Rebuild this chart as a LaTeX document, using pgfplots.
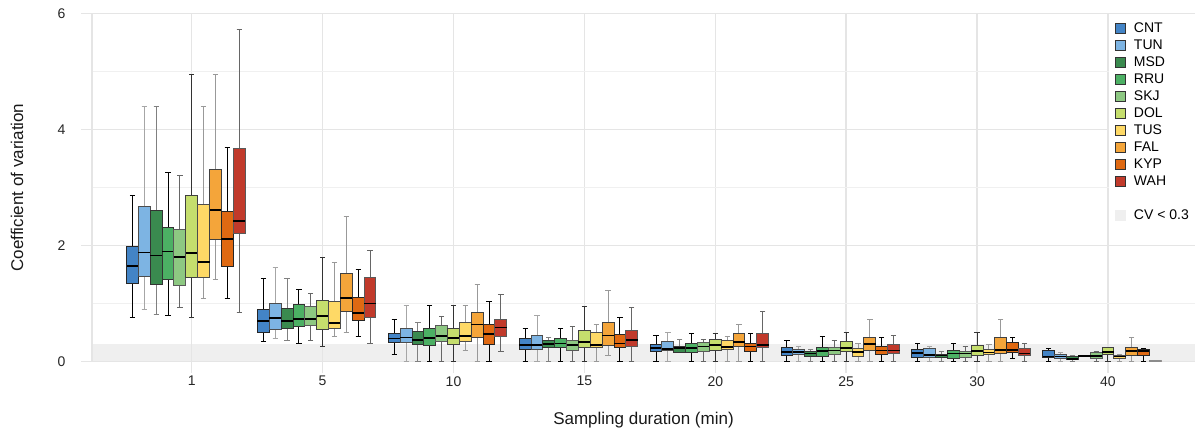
\documentclass[border=0pt]{standalone}
\usepackage{pgfplots}
\pgfplotsset{compat=1.18}
\usepgfplotslibrary{statistics}
\usepackage{fontspec}
\setmainfont{Liberation Sans}
\newcommand\fs[1]{\fontsize{#1}{#1}\selectfont}
\definecolor{cCNT}{HTML}{4384C6}
\definecolor{cTUN}{HTML}{7DB4E3}
\definecolor{cMSD}{HTML}{3A8A4F}
\definecolor{cRRU}{HTML}{4CB064}
\definecolor{cSKJ}{HTML}{8DC882}
\definecolor{cDOL}{HTML}{C5DE6D}
\definecolor{cTUS}{HTML}{FED966}
\definecolor{cFAL}{HTML}{F4A53A}
\definecolor{cKYP}{HTML}{DF6912}
\definecolor{cWAH}{HTML}{C13A2B}
\definecolor{gridmaj}{HTML}{E5E5E5}
\definecolor{gridmin}{HTML}{F0F0F0}
\definecolor{band}{HTML}{EFEFEF}
\pgfplotsset{
  st0/.style={fill=cCNT, draw=black!85, boxplot/every whisker/.style={draw=black}},
  st1/.style={fill=cTUN, draw=black!70, boxplot/every whisker/.style={draw=black!35}},
  st2/.style={fill=cMSD, draw=black!80, boxplot/every whisker/.style={draw=black!50}},
  st3/.style={fill=cRRU, draw=black!80, boxplot/every whisker/.style={draw=black}},
  st4/.style={fill=cSKJ, draw=black!65, boxplot/every whisker/.style={draw=black!60}},
  st5/.style={fill=cDOL, draw=black!75, boxplot/every whisker/.style={draw=black!80}},
  st6/.style={fill=cTUS, draw=black!70, boxplot/every whisker/.style={draw=black!40}},
  st7/.style={fill=cFAL, draw=black!75, boxplot/every whisker/.style={draw=black!40}},
  st8/.style={fill=cKYP, draw=black!85, boxplot/every whisker/.style={draw=black}},
  st9/.style={fill=cWAH, draw=black!65, boxplot/every whisker/.style={draw=black!60}},
}
\newcommand\B[7]{\addplot[st#2, forget plot, line width=1pt,
  boxplot prepared={draw position={#1+(#2-5)*0.0905}, lower whisker=#3,
  lower quartile=#4, median=#5, upper quartile=#6, upper whisker=#7}] coordinates {};}
\newcommand\LI[1]{\addlegendimage{legend image code/.code={\draw[fill=#1, draw=black!80, line width=0.8pt] (0pt,-5pt) rectangle (10pt,5pt);}}}
\begin{document}
\begin{tikzpicture}
\begin{axis}[
  set layers,
  at={(92pt,74.3pt)}, anchor=south west,
  scale only axis, width=1103pt, height=348.4pt,
  xmin=-0.762, xmax=7.665, ymin=0, ymax=6,
  clip=false,
  axis x line*=bottom, axis y line*=left,
  axis line style={-, draw=gridmaj, line width=1.5pt},
  xtick={0,1,2,3,4,5,6,7},
  xticklabels={1,5,10,15,20,25,30,40},
  ytick={0,2,4,6}, minor ytick={1,3,5},
  xmajorgrids, ymajorgrids, yminorgrids,
  major grid style={draw=gridmaj, line width=1.4pt},
  minor grid style={draw=gridmin, line width=1pt},
  tick align=outside, major tick length=11pt, minor tick length=0pt,
  tick style={draw=gridmaj, line width=1.4pt},
  every tick label/.append style={font=\fs{14}, text=black!85},
  yticklabel style={xshift=-12pt},
  /pgf/number format/assume math mode=true,
  xlabel={Sampling duration (min)},
  ylabel={Coefficient of variation},
  label style={font=\fs{17}, text=black!90},
  xlabel style={at={(axis description cs:0.5,-0.168)}, anchor=center},
  ylabel style={at={(axis description cs:-0.068,0.5)}, anchor=center},
  boxplot/draw direction=y,
  boxplot/box extend=0.0905,
  boxplot/whisker extend=0.04,
  boxplot/every median/.style={draw=black, line width=1.6pt},
  legend style={at={(0.922,0.9923)}, anchor=north west, draw=none, fill=white,
    font=\fs{14}, inner xsep=6pt, inner ysep=6pt, row sep=4pt,
    nodes={inner sep=0pt, text height=10pt, text depth=3pt},
    /tikz/every odd column/.append style={column sep=8pt}},
  legend cell align=left,
]
\addplot[fill=band, draw=none, forget plot, on layer=axis background]
  coordinates {(-0.762,0.3) (7.665,0.3)} \closedcycle;
% group 1
\B{0}{0}{0.76}{1.34}{1.65}{1.99}{2.87}
\B{0}{1}{0.90}{1.46}{1.88}{2.67}{4.40}
\B{0}{2}{0.82}{1.33}{1.83}{2.60}{4.40}
\B{0}{3}{0.80}{1.42}{1.90}{2.31}{3.26}
\B{0}{4}{0.94}{1.32}{1.80}{2.27}{3.20}
\B{0}{5}{0.76}{1.45}{1.87}{2.87}{4.94}
\B{0}{6}{1.08}{1.45}{1.72}{2.70}{4.40}
\B{0}{7}{1.41}{2.10}{2.61}{3.31}{4.94}
\B{0}{8}{1.08}{1.64}{2.11}{2.58}{3.69}
\B{0}{9}{0.84}{2.21}{2.42}{3.68}{5.72}
% group 5
\B{1}{0}{0.34}{0.50}{0.70}{0.90}{1.44}
\B{1}{1}{0.40}{0.56}{0.75}{1.01}{1.63}
\B{1}{2}{0.36}{0.57}{0.70}{0.92}{1.44}
\B{1}{3}{0.32}{0.60}{0.74}{0.98}{1.25}
\B{1}{4}{0.37}{0.62}{0.74}{0.95}{1.18}
\B{1}{5}{0.26}{0.56}{0.79}{1.06}{1.80}
\B{1}{6}{0.44}{0.57}{0.67}{1.03}{1.71}
\B{1}{7}{0.51}{0.86}{1.10}{1.52}{2.50}
\B{1}{8}{0.44}{0.71}{0.84}{1.11}{1.58}
\B{1}{9}{0.32}{0.76}{1.00}{1.45}{1.91}
% group 10
\B{2}{0}{0.12}{0.33}{0.40}{0.48}{0.72}
\B{2}{1}{0}{0.33}{0.42}{0.58}{0.96}
\B{2}{2}{0}{0.30}{0.37}{0.52}{0.68}
\B{2}{3}{0}{0.28}{0.41}{0.57}{0.96}
\B{2}{4}{0}{0.35}{0.44}{0.63}{0.77}
\B{2}{5}{0}{0.30}{0.41}{0.58}{0.96}
\B{2}{6}{0.20}{0.35}{0.44}{0.67}{0.96}
\B{2}{7}{0}{0.42}{0.64}{0.84}{1.33}
\B{2}{8}{0}{0.30}{0.48}{0.64}{1.04}
\B{2}{9}{0.17}{0.44}{0.59}{0.73}{1.15}
% group 15
\B{3}{0}{0}{0.21}{0.29}{0.40}{0.57}
\B{3}{1}{0}{0.21}{0.29}{0.45}{0.80}
\B{3}{2}{0}{0.24}{0.30}{0.37}{0.41}
\B{3}{3}{0}{0.24}{0.31}{0.40}{0.57}
\B{3}{4}{0}{0.20}{0.29}{0.37}{0.60}
\B{3}{5}{0}{0.25}{0.34}{0.54}{0.95}
\B{3}{6}{0}{0.24}{0.29}{0.51}{0.64}
\B{3}{7}{0.11}{0.28}{0.45}{0.67}{1.22}
\B{3}{8}{0}{0.25}{0.31}{0.46}{0.76}
\B{3}{9}{0}{0.26}{0.37}{0.54}{0.93}
% group 20
\B{4}{0}{0}{0.18}{0.24}{0.29}{0.45}
\B{4}{1}{0}{0.20}{0.22}{0.35}{0.51}
\B{4}{2}{0.15}{0.16}{0.24}{0.27}{0.39}
\B{4}{3}{0}{0.16}{0.24}{0.31}{0.49}
\B{4}{4}{0}{0.18}{0.26}{0.33}{0.38}
\B{4}{5}{0}{0.20}{0.29}{0.38}{0.49}
\B{4}{6}{0}{0.21}{0.25}{0.37}{0.44}
\B{4}{7}{0}{0.26}{0.34}{0.48}{0.64}
\B{4}{8}{0}{0.18}{0.26}{0.32}{0.49}
\B{4}{9}{0}{0.24}{0.29}{0.48}{0.86}
% group 25
\B{5}{0}{0}{0.10}{0.17}{0.24}{0.36}
\B{5}{1}{0}{0.13}{0.17}{0.21}{0.27}
\B{5}{2}{0}{0.09}{0.14}{0.18}{0.21}
\B{5}{3}{0}{0.09}{0.18}{0.25}{0.44}
\B{5}{4}{0}{0.13}{0.19}{0.25}{0.37}
\B{5}{5}{0}{0.17}{0.24}{0.35}{0.50}
\B{5}{6}{0}{0.09}{0.17}{0.23}{0.32}
\B{5}{7}{0}{0.20}{0.30}{0.42}{0.72}
\B{5}{8}{0}{0.12}{0.19}{0.26}{0.42}
\B{5}{9}{0}{0.14}{0.19}{0.30}{0.45}
% group 30
\B{6}{0}{0}{0.08}{0.15}{0.21}{0.32}
\B{6}{1}{0}{0.08}{0.12}{0.22}{0.27}
\B{6}{2}{0}{0.07}{0.11}{0.13}{0.18}
\B{6}{3}{0}{0.05}{0.14}{0.19}{0.32}
\B{6}{4}{0}{0.07}{0.14}{0.17}{0.27}
\B{6}{5}{0}{0.11}{0.18}{0.28}{0.50}
\B{6}{6}{0}{0.12}{0.16}{0.21}{0.30}
\B{6}{7}{0}{0.14}{0.20}{0.42}{0.72}
\B{6}{8}{0.06}{0.15}{0.20}{0.33}{0.41}
\B{6}{9}{0}{0.11}{0.14}{0.22}{0.32}
% group 40
\B{7}{0}{0}{0.08}{0.09}{0.19}{0.22}
\B{7}{1}{0}{0.05}{0.09}{0.13}{0.15}
\B{7}{2}{0}{0.03}{0.05}{0.09}{0.10}
\B{7}{3}{0.09}{0.095}{0.10}{0.105}{0.11}
\B{7}{4}{0}{0.05}{0.10}{0.16}{0.17}
\B{7}{5}{0}{0.13}{0.17}{0.24}{0.25}
\B{7}{6}{0}{0.06}{0.09}{0.11}{0.13}
\B{7}{7}{0}{0.10}{0.18}{0.24}{0.42}
\B{7}{8}{0}{0.10}{0.18}{0.21}{0.22}
\addplot[fill=cWAH, draw=black!40, forget plot, line width=1pt,
  boxplot/every whisker/.style={draw=black!40},
  boxplot/every median/.style={draw=black!45, line width=1.6pt},
  boxplot prepared={draw position={7+(9-5)*0.0905}, lower whisker=0,
  lower quartile=0.005, median=0.01, upper quartile=0.015, upper whisker=0.02}] coordinates {};
% legend
\LI{cCNT}\addlegendentry{CNT}
\LI{cTUN}\addlegendentry{TUN}
\LI{cMSD}\addlegendentry{MSD}
\LI{cRRU}\addlegendentry{RRU}
\LI{cSKJ}\addlegendentry{SKJ}
\LI{cDOL}\addlegendentry{DOL}
\LI{cTUS}\addlegendentry{TUS}
\LI{cFAL}\addlegendentry{FAL}
\LI{cKYP}\addlegendentry{KYP}
\LI{cWAH}\addlegendentry{WAH}
\addlegendimage{empty legend}\addlegendentry{\strut}
\addlegendimage{legend image code/.code={\fill[band] (0pt,-5pt) rectangle (10pt,5pt);}}\addlegendentry{CV < 0.3}
\end{axis}
\pgfresetboundingbox
\useasboundingbox (0pt,0pt) rectangle (1195pt,436pt);
\end{tikzpicture}
\end{document}
